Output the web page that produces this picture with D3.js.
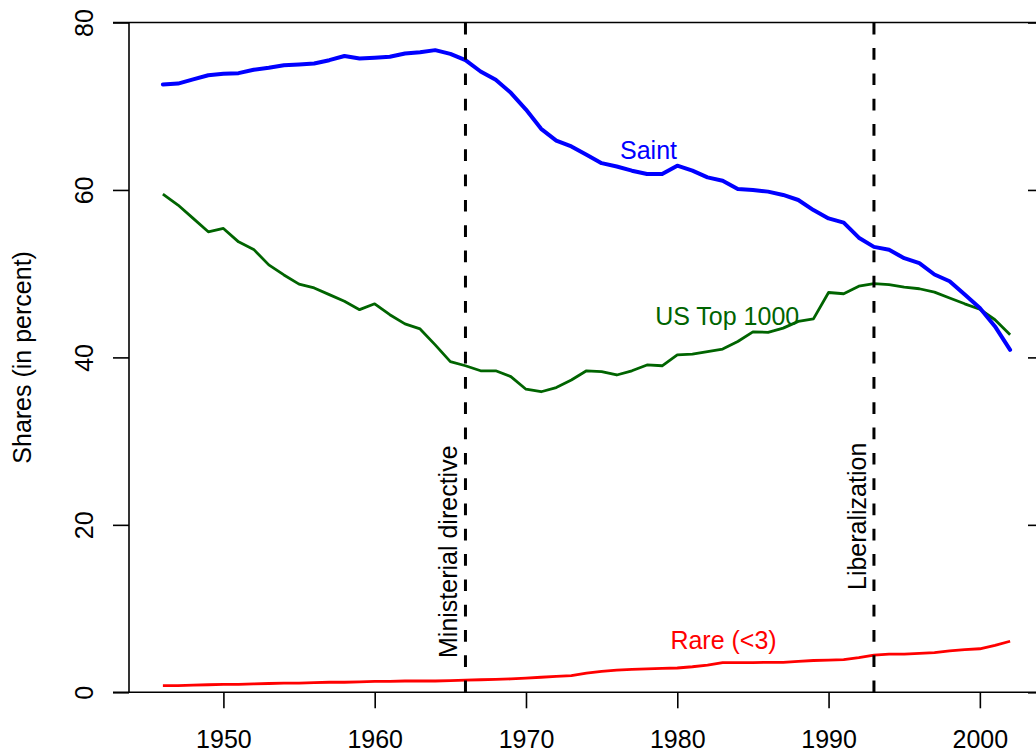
<!DOCTYPE html>
<html>
<head>
<meta charset="utf-8">
<script src="https://cdn.jsdelivr.net/npm/d3@7"></script>
<style>
  html, body { margin: 0; padding: 0; background: #fff; }
  svg { display: block; font-family: "Liberation Sans", Arial, sans-serif; }
</style>
</head>
<body>
<svg id="chart" width="1036" height="751"></svg>
<script>
const years = [1946,1947,1948,1949,1950,1951,1952,1953,1954,1955,1956,1957,1958,1959,
  1960,1961,1962,1963,1964,1965,1966,1967,1968,1969,1970,1971,1972,1973,1974,1975,
  1976,1977,1978,1979,1980,1981,1982,1983,1984,1985,1986,1987,1988,1989,1990,1991,
  1992,1993,1994,1995,1996,1997,1998,1999,2000,2001,2002];

const saint = [72.6,72.7,73.2,73.7,73.87,73.95,74.35,74.6,74.9,74.98,75.1,75.5,76.0,75.7,
  75.8,75.9,76.3,76.45,76.7,76.25,75.5,74.15,73.15,71.6,69.6,67.3,65.9,65.2,64.2,63.2,
  62.8,62.3,61.9,61.9,62.9,62.3,61.5,61.1,60.1,60.0,59.8,59.4,58.8,57.6,56.6,56.1,
  54.3,53.2,52.85,51.85,51.25,49.9,49.1,47.5,45.9,43.7,40.9];

const usTop1000 = [59.5,58.2,56.6,55.0,55.4,53.8,52.9,51.05,49.85,48.75,48.3,47.5,46.7,45.7,
  46.4,45.1,44.0,43.4,41.5,39.5,39.0,38.4,38.4,37.7,36.2,35.9,36.4,37.3,38.4,38.3,
  37.9,38.4,39.1,39.0,40.3,40.4,40.7,41.0,41.9,43.05,43.0,43.5,44.3,44.6,47.75,47.6,
  48.5,48.8,48.7,48.4,48.2,47.8,47.1,46.4,45.75,44.5,42.7];

const rare = [0.8,0.8,0.85,0.9,0.95,0.95,1.0,1.05,1.1,1.1,1.15,1.2,1.2,1.25,
  1.3,1.3,1.35,1.35,1.35,1.4,1.45,1.5,1.55,1.6,1.7,1.8,1.9,2.0,2.3,2.5,
  2.65,2.75,2.8,2.85,2.9,3.05,3.25,3.55,3.55,3.55,3.58,3.58,3.7,3.8,3.85,3.9,
  4.15,4.45,4.55,4.55,4.65,4.75,4.95,5.1,5.2,5.6,6.1];

const xTicks = [1950,1960,1970,1980,1990,2000];
const yTicks = [0,20,40,60,80];
const events = [
  {year: 1966, label: "Ministerial directive", labelY: 658},
  {year: 1993, label: "Liberalization", labelY: 590}
];
const seriesLabels = [
  {text: "Saint", year: 1978.1, value: 63.7, color: "#0000ff"},
  {text: "US Top 1000", year: 1983.3, value: 43.9, color: "#006400"},
  {text: "Rare (<3)", year: 1983.06, value: 5.14, color: "#ff0000"}
];

const svg = d3.select("#chart");
const x = d3.scaleLinear().domain([1943.76, 2004.24]).range([129, 1044]);
const y = d3.scaleLinear().domain([0, 80]).range([692.3, 22.5]);
const FS = 25;

// frame: left, top, bottom (bty = "c")
const left = 129, right = 1028;
svg.append("line").attr("x1", left).attr("x2", left).attr("y1", y(80)).attr("y2", y(0))
  .attr("stroke", "#000").attr("stroke-width", 1.6);
svg.append("line").attr("x1", 113).attr("x2", 1036).attr("y1", y(80)).attr("y2", y(80))
  .attr("stroke", "#000").attr("stroke-width", 1.6);
svg.append("line").attr("x1", 113).attr("x2", 1036).attr("y1", y(0)).attr("y2", y(0))
  .attr("stroke", "#000").attr("stroke-width", 1.6);

// y axis (left)
const yAxis = d3.axisLeft(y).tickValues(yTicks).tickSize(16).tickPadding(0).tickFormat(d3.format("d"));
const gy = svg.append("g").attr("transform", `translate(${left},0)`).call(yAxis);
gy.select(".domain").remove();
gy.selectAll(".tick line").attr("stroke", "#000").attr("stroke-width", 1.6);
gy.selectAll(".tick text")
  .attr("x", 0).attr("dy", null)
  .attr("transform", d => `translate(-36,0) rotate(-90)`)
  .attr("text-anchor", "middle")
  .attr("font-size", FS).attr("fill", "#000")
  .attr("font-family", "Liberation Sans, Arial, sans-serif");

// right ticks
const yAxisR = d3.axisRight(y).tickValues(yTicks).tickSize(8).tickFormat("");
const gyr = svg.append("g").attr("transform", `translate(${right},0)`).call(yAxisR);
gyr.select(".domain").remove();
gyr.selectAll(".tick line").attr("stroke", "#000").attr("stroke-width", 1.6);

// x axis
const xAxis = d3.axisBottom(x).tickValues(xTicks).tickSize(16).tickPadding(0).tickFormat(d3.format("d"));
const gx = svg.append("g").attr("transform", `translate(0,${y(0)})`).call(xAxis);
gx.select(".domain").remove();
gx.selectAll(".tick line").attr("stroke", "#000").attr("stroke-width", 1.6);
gx.selectAll(".tick text")
  .attr("y", 55.5).attr("dy", null)
  .attr("font-size", FS).attr("fill", "#000")
  .attr("font-family", "Liberation Sans, Arial, sans-serif");

// y label
svg.append("text")
  .attr("transform", `translate(31,${(y(0)+y(80))/2}) rotate(-90)`)
  .attr("text-anchor", "middle").attr("font-size", FS).attr("fill", "#000")
  .text("Shares (in percent)");

// series lines
const line = vals => d3.line().x((d, i) => x(years[i])).y(d => y(d))(vals);
svg.append("path").attr("d", line(usTop1000)).attr("fill", "none")
  .attr("stroke", "#006400").attr("stroke-width", 2.8).attr("stroke-linejoin", "round");
svg.append("path").attr("d", line(rare)).attr("fill", "none")
  .attr("stroke", "#ff0000").attr("stroke-width", 2.8).attr("stroke-linejoin", "round");
svg.append("path").attr("d", line(saint)).attr("fill", "none")
  .attr("stroke", "#0000ff").attr("stroke-width", 4).attr("stroke-linejoin", "round")
  .attr("stroke-linecap", "round");

// event lines
events.forEach(ev => {
  svg.append("line")
    .attr("x1", x(ev.year)).attr("x2", x(ev.year))
    .attr("y1", y(0)).attr("y2", y(80))
    .attr("stroke", "#000").attr("stroke-width", 3)
    .attr("stroke-dasharray", "11.7,13.6");
  svg.append("text")
    .attr("transform", `translate(${x(ev.year) - 8},${ev.labelY}) rotate(-90)`)
    .attr("text-anchor", "start").attr("font-size", FS).attr("fill", "#000")
    .text(ev.label);
});

// series labels
seriesLabels.forEach(l => {
  svg.append("text")
    .attr("x", x(l.year)).attr("y", y(l.value))
    .attr("text-anchor", "middle").attr("font-size", FS).attr("fill", l.color)
    .text(l.text);
});
</script>
</body>
</html>
